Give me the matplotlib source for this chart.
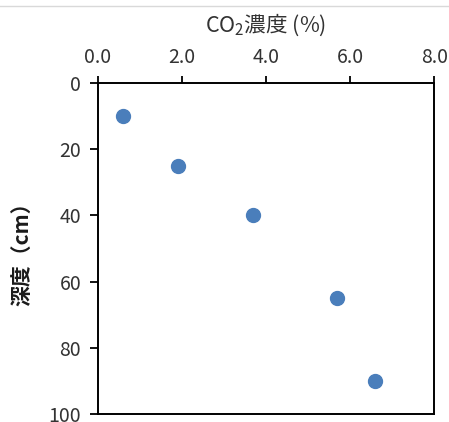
import matplotlib.pyplot as plt
from matplotlib.lines import Line2D

plt.rcParams['font.family'] = ['Noto Sans CJK JP', 'DejaVu Sans']
plt.rcParams['mathtext.fontset'] = 'custom'
plt.rcParams['mathtext.rm'] = 'Noto Sans CJK JP'
plt.rcParams['mathtext.it'] = 'Noto Sans CJK JP'
plt.rcParams['mathtext.default'] = 'rm'

# CO2 concentration (%) vs depth (cm)
co2 = [0.6, 1.9, 3.7, 5.7, 6.6]
depth = [10, 25, 40, 65, 90]
x_ticks = [0, 2, 4, 6, 8]
y_ticks = [0, 20, 40, 60, 80, 100]

fig = plt.figure(figsize=(4.49, 4.22), dpi=100)
ax = fig.add_axes([0.218, 0.019, 0.749, 0.784])

ax.scatter(co2, depth, s=100, color='#4A7EBB', zorder=3)

ax.set_xlim(0, 8)
ax.set_ylim(100, 0)
ax.set_xticks(x_ticks)
ax.set_xticklabels([f'{v:.1f}' for v in x_ticks])
ax.set_yticks(y_ticks)
ax.xaxis.tick_top()
ax.xaxis.set_label_position('top')
ax.tick_params(axis='x', direction='out', length=5, width=1.3, labelsize=14, pad=6)
ax.tick_params(axis='y', direction='out', length=6, width=1.3, labelsize=14, pad=6)
ax.tick_params(labelcolor='#333333')
for s in ax.spines.values():
    s.set_linewidth(1.4)
    s.set_color('black')

ax.set_xlabel('CO$_2$濃度 (%)', fontsize=15.5, color='#333333', labelpad=11)
ax.set_ylabel('深度（cm）', fontsize=15, color='#1a1a1a', fontweight='bold', labelpad=12)

# thin grey line along the top edge
fig.add_artist(Line2D([0, 1], [1 - 6 / 422, 1 - 6 / 422], color='#d9d9d9', lw=1))

fig.savefig('out.png', dpi=100)
